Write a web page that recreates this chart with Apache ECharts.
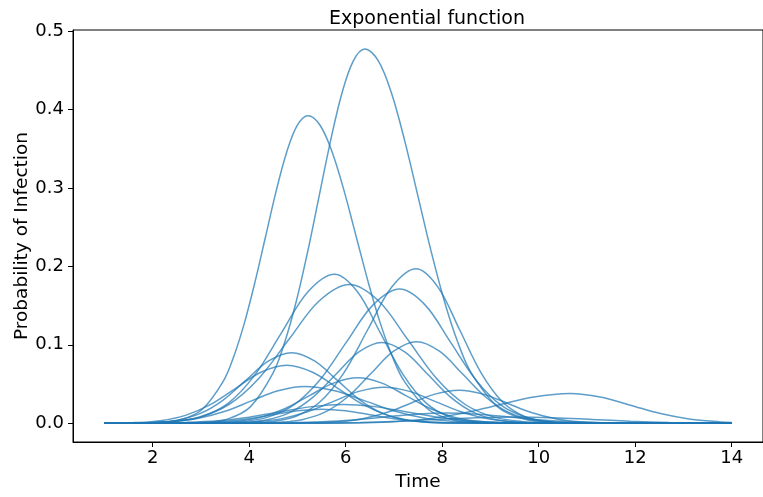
<!DOCTYPE html>
<html>
<head>
<meta charset="utf-8">
<script src="https://cdn.jsdelivr.net/npm/echarts@6/dist/echarts.min.js"></script>
<style>
html,body{margin:0;padding:0;background:#fff;}
#chart{width:763px;height:497px;}
</style>
</head>
<body>
<div id="chart"></div>
<script>
// Each curve: sample times (T) and probability values (V)
const aT = [1,3.075,3.55,4.025,4.5,4.7375,4.975,5.2125,5.45,5.6875,5.925,6.1625,6.4,6.675,6.95,7.225,7.5,7.775,8.05,8.325,8.6,9.15,9.7,10.25,14];
const aV = [0,0.0010,0.0053,0.0209,0.0645,0.1032,0.1549,0.2184,0.2893,0.3600,0.4210,0.4623,0.477,0.4623,0.4210,0.3600,0.2893,0.2184,0.1549,0.1032,0.0645,0.0209,0.0053,0.0010,0];

const bT = [1,2.14,2.58,3.02,3.46,3.68,3.90,4.12,4.34,4.56,4.78,5.0,5.22,5.47,5.72,5.97,6.22,6.47,6.72,6.97,7.22,7.72,8.22,8.72,14];
const bV = [0,0.0009,0.0044,0.0172,0.0530,0.0848,0.1273,0.1795,0.2377,0.2959,0.3459,0.3799,0.392,0.3799,0.3459,0.2959,0.2377,0.1795,0.1273,0.0848,0.0530,0.0172,0.0044,0.0009,0];

const cT = [1,1.92,2.47,3.02,3.57,4.12,4.67,5.22,5.77,6.245,6.72,7.195,7.67,8.145,8.62,9.095,14];
const cV = [0,0.0004,0.0021,0.0083,0.0257,0.0617,0.1152,0.1677,0.190,0.1677,0.1152,0.0617,0.0257,0.0083,0.0021,0.0004,0];

const dT = [1,1.705,2.33,2.955,3.58,4.205,4.83,5.455,6.08,6.68,7.28,7.88,8.48,9.08,9.68,10.28,14];
const dV = [0,0.0004,0.0020,0.0078,0.0239,0.0575,0.1074,0.1562,0.177,0.1562,0.1074,0.0575,0.0239,0.0078,0.0020,0.0004,0];

const eT = [1,3.96,4.46,4.96,5.46,5.96,6.46,6.96,7.46,7.91,8.36,8.81,9.26,9.71,10.16,10.61,14];
const eV = [0,0.0004,0.0022,0.0086,0.0267,0.0640,0.1195,0.1739,0.197,0.1739,0.1195,0.0640,0.0267,0.0086,0.0022,0.0004,0];

const fT = [1,3.27,3.82,4.37,4.92,5.47,6.02,6.57,7.12,7.645,8.17,8.695,9.22,9.745,10.27,10.795,14];
const fV = [0,0.0004,0.0019,0.0075,0.0231,0.0555,0.1037,0.1509,0.171,0.1509,0.1037,0.0555,0.0231,0.0075,0.0019,0.0004,0];

const gT = [1,3.425,3.9,4.375,4.85,5.325,5.8,6.275,6.75,7.225,7.7,8.175,8.65,9.125,9.6,10.075,14];
const gV = [0,0.0002,0.0011,0.0045,0.0139,0.0334,0.0625,0.0909,0.103,0.0909,0.0625,0.0334,0.0139,0.0045,0.0011,0.0002,0];

const hT = [1,4.145,4.62,5.095,5.57,6.045,6.52,6.995,7.47,7.945,8.42,8.895,9.37,9.845,10.32,10.795,14];
const hV = [0,0.0002,0.0012,0.0046,0.0141,0.0338,0.0631,0.0918,0.104,0.0918,0.0631,0.0338,0.0141,0.0046,0.0012,0.0002,0];

const iT = [1,1.555,2.03,2.505,2.98,3.455,3.93,4.405,4.88,5.355,5.83,6.305,6.78,7.255,7.73,8.205,14];
const iV = [0,0.0002,0.0010,0.0040,0.0122,0.0292,0.0546,0.0794,0.090,0.0794,0.0546,0.0292,0.0122,0.0040,0.0010,0.0002,0];

const jT = [1,1.105,1.63,2.155,2.68,3.205,3.73,4.255,4.78,5.305,5.83,6.355,6.88,7.405,7.93,8.455,14];
const jV = [0.0001,0.0002,0.0008,0.0032,0.0100,0.0240,0.0449,0.0653,0.074,0.0653,0.0449,0.0240,0.0100,0.0032,0.0008,0.0002,0];

const kT = [1,2.75,3.25,3.75,4.25,4.75,5.25,5.75,6.25,6.75,7.25,7.75,8.25,8.75,9.25,9.75,14];
const kV = [0,0.0001,0.0006,0.0025,0.0078,0.0188,0.0352,0.0512,0.058,0.0512,0.0352,0.0188,0.0078,0.0025,0.0006,0.0001,0];

const lT = [1,1.3,1.85,2.4,2.95,3.5,4.05,4.6,5.15,5.775,6.4,7.025,7.65,8.275,8.9,9.525,14];
const lV = [0,0.0001,0.0005,0.0021,0.0064,0.0153,0.0285,0.0415,0.047,0.0415,0.0285,0.0153,0.0064,0.0021,0.0005,0.0001,0];

const mT = [1,3.125,3.65,4.175,4.7,5.225,5.75,6.275,6.8,7.325,7.85,8.375,8.9,9.425,9.95,10.475,14];
const mV = [0,0.0001,0.0005,0.0020,0.0062,0.0149,0.0279,0.0406,0.046,0.0406,0.0279,0.0149,0.0062,0.0020,0.0005,0.0001,0];

const nT = [1,4.85,5.35,5.85,6.35,6.85,7.35,7.85,8.35,8.85,9.35,9.85,10.35,10.85,11.35,11.85,14];
const nV = [0,0.0001,0.0005,0.0018,0.0057,0.0136,0.0255,0.0371,0.042,0.0371,0.0255,0.0136,0.0057,0.0018,0.0005,0.0001,0];

const oT = [1,5.4,6.15,6.9,7.65,8.4,9.15,9.9,10.65,11.275,11.9,12.525,13.15,13.775,14];
const oV = [0,0.0001,0.0004,0.0017,0.0051,0.0123,0.0230,0.0335,0.038,0.0335,0.0230,0.0123,0.0051,0.0017,0.0010];

const pT = [1,1.4,2.05,2.7,3.35,4.0,4.65,5.3,5.95,6.6,7.25,7.9,8.55,9.2,9.85,10.5,14];
const pV = [0,0.0001,0.0003,0.0011,0.0032,0.0078,0.0146,0.0212,0.024,0.0212,0.0146,0.0078,0.0032,0.0011,0.0003,0.0001,0];

const qT = [1,3.55,4.2,4.85,5.5,6.15,6.8,7.45,8.1,8.75,9.4,10.05,10.7,11.35,12.0,12.65,14];
const qV = [0,0,0.0001,0.0006,0.0018,0.0042,0.0079,0.0115,0.013,0.0115,0.0079,0.0042,0.0018,0.0006,0.0001,0,0];

const rT = [1,2.0,2.5,3.0,3.5,4.0,4.5,5.0,5.5,6.0,6.5,7.0,7.5,8.0,8.5,9.0,14];
const rV = [0,0,0.0002,0.0008,0.0024,0.0058,0.0109,0.0159,0.018,0.0159,0.0109,0.0058,0.0024,0.0008,0.0002,0,0];

const sT = [1,3.9,4.7,5.5,6.3,7.1,7.9,8.7,9.5,10.3,11.1,11.9,12.7,13.5,14];
const sV = [0,0,0.0001,0.0004,0.0011,0.0026,0.0049,0.0071,0.008,0.0071,0.0049,0.0026,0.0011,0.0004,0.0002];

const curves = [
  [aT,aV],[bT,bV],[cT,cV],[dT,dV],[eT,eV],[fT,fV],[gT,gV],[hT,hV],[iT,iV],[jT,jV],
  [kT,kV],[lT,lV],[mT,mV],[nT,nV],[oT,oV],[pT,pV],[qT,qV],[rT,rV],[sT,sV]
];

// Tick labels
const xTicks = [2,4,6,8,10,12,14];
const yTicks = [0,0.1,0.2,0.3,0.4,0.5];

const FONT = 'DejaVu Sans';
const chart = echarts.init(document.getElementById('chart'), null, {renderer:'canvas'});

const series = curves.map(([ts, vs], k) => ({
  type: 'line',
  name: 'curve' + k,
  data: ts.map((t, i) => [t, vs[i]]),
  showSymbol: false,
  smooth: 0.35,
  lineStyle: {color: '#1f77b4', width: 1.5, opacity: 0.72},
  itemStyle: {color: '#1f77b4'},
  emphasis: {disabled: true},
  silent: true
}));

chart.setOption({
  backgroundColor: '#ffffff',
  animation: false,
  title: {
    text: 'Exponential function',
    left: 422,
    top: 5,
    textAlign: 'center',
    textStyle: {fontFamily: FONT, fontSize: 19, fontWeight: 'normal', color: '#000'}
  },
  grid: {
    left: 73, top: 30, width: 699, height: 414,
    show: true, borderColor: '#000', borderWidth: 1, backgroundColor: 'transparent'
  },
  xAxis: {
    type: 'value',
    min: 0.35, max: 14.65,
    name: 'Time',
    nameLocation: 'middle',
    nameGap: 31,
    nameMoveOverlap: false,
    nameTextStyle: {fontFamily: FONT, fontSize: 18.5, color: '#000'},
    axisLine: {show: true, onZero: false, lineStyle: {color: '#000', width: 1}},
    axisTick: {show: true, inside: false, length: 5, lineStyle: {color: '#000', width: 1}, customValues: xTicks},
    axisLabel: {fontFamily: FONT, fontSize: 18, color: '#000', margin: 7, customValues: xTicks, formatter: v => String(v)},
    splitLine: {show: false}
  },
  yAxis: {
    type: 'value',
    min: -0.0239, max: 0.5013,
    name: 'Probability of Infection',
    nameLocation: 'middle',
    nameGap: 41,
    nameMoveOverlap: false,
    nameTextStyle: {fontFamily: FONT, fontSize: 18.5, color: '#000'},
    axisLine: {show: true, onZero: false, lineStyle: {color: '#000', width: 1}},
    axisTick: {show: true, inside: false, length: 5, lineStyle: {color: '#000', width: 1}, customValues: yTicks},
    axisLabel: {fontFamily: FONT, fontSize: 18, color: '#000', margin: 9, customValues: yTicks, formatter: v => v.toFixed(1)},
    splitLine: {show: false}
  },
  series: series
});
</script>
</body>
</html>
